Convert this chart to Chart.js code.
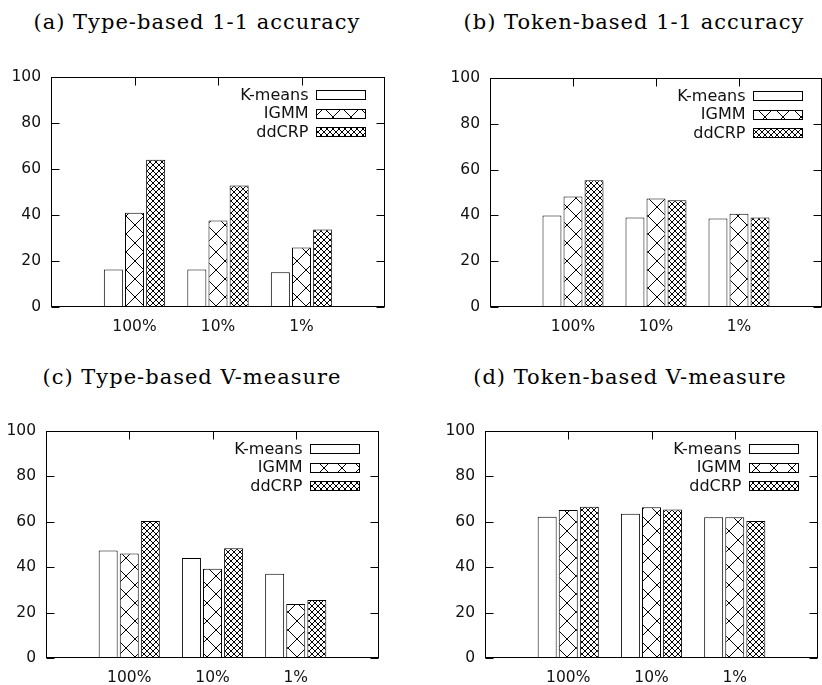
<!DOCTYPE html>
<html>
<head>
<meta charset="utf-8">
<script src="https://cdn.jsdelivr.net/npm/chart.js@4.4.1/dist/chart.umd.min.js"></script>
<style>
  html, body { margin: 0; padding: 0; background: #fff; }
  #wrap { position: relative; width: 822px; height: 685px; overflow: hidden; background: #fff; }
  #wrap canvas { position: absolute; left: 0; top: 0; }
  .ttl { position: absolute; width: 440px; text-align: center; font-family: "DejaVu Serif", serif; font-size: 21px; letter-spacing: 1px; line-height: 26px; color: #000; white-space: nowrap; }
</style>
</head>
<body>
<div id="wrap">
  <div class="ttl" id="t0"></div>
  <div class="ttl" id="t1"></div>
  <div class="ttl" id="t2"></div>
  <div class="ttl" id="t3"></div>
  <canvas id="c0" width="822" height="685"></canvas>
  <canvas id="c1" width="822" height="685"></canvas>
  <canvas id="c2" width="822" height="685"></canvas>
  <canvas id="c3" width="822" height="685"></canvas>
</div>
<script>
// ---------- data ----------
const categories = ['100%', '10%', '1%'];
const seriesNames = ['K-means', 'IGMM', 'ddCRP'];
const panelTitles = ['(a) Type-based 1-1 accuracy', '(b) Token-based 1-1 accuracy',
                     '(c) Type-based V-measure', '(d) Token-based V-measure'];

const typeAccKmeans  = [16.3, 16.3, 15.1];
const typeAccIGMM    = [41.0, 37.6, 25.9];
const typeAccDdcrp   = [64.0, 52.8, 33.7];

const tokenAccKmeans = [40.0, 39.1, 38.7];
const tokenAccIGMM   = [48.2, 47.4, 40.7];
const tokenAccDdcrp  = [55.3, 46.6, 39.1];

const typeVmKmeans   = [47.4, 44.0, 37.1];
const typeVmIGMM     = [46.0, 39.3, 23.8];
const typeVmDdcrp    = [60.4, 48.4, 25.5];

const tokenVmKmeans  = [62.2, 63.6, 62.0];
const tokenVmIGMM    = [65.2, 66.4, 62.0];
const tokenVmDdcrp   = [66.6, 65.4, 60.3];

const yMin = 0, yMax = 100, yStep = 20;
const yTickValues = [0, 20, 40, 60, 80, 100];

// ---------- layout (positions only) ----------
const panels = [
  { title: panelTitles[0], tx: 197, ty: 22,  xh: 40, area: { left: 51,  right: 385, top: 77,  bottom: 307 }, data: [typeAccKmeans, typeAccIGMM, typeAccDdcrp] },
  { title: panelTitles[1], tx: 634, ty: 22,  xh: 40, area: { left: 490, right: 822, top: 78,  bottom: 307 }, data: [tokenAccKmeans, tokenAccIGMM, tokenAccDdcrp] },
  { title: panelTitles[2], tx: 192, ty: 377, xh: 27, area: { left: 46,  right: 379, top: 431, bottom: 658 }, data: [typeVmKmeans, typeVmIGMM, typeVmDdcrp] },
  { title: panelTitles[3], tx: 630, ty: 377, xh: 27, area: { left: 485, right: 818, top: 431, bottom: 658 }, data: [tokenVmKmeans, tokenVmIGMM, tokenVmDdcrp] }
];

// ---------- patterns ----------
function makeCross(p, lw) {
  const c = document.createElement('canvas');
  c.width = p; c.height = p;
  const g = c.getContext('2d');
  g.fillStyle = '#fff'; g.fillRect(0, 0, p, p);
  g.strokeStyle = '#000'; g.lineWidth = lw;
  g.beginPath();
  g.moveTo(-1, -1); g.lineTo(p + 1, p + 1);
  g.moveTo(p + 1, -1); g.lineTo(-1, p + 1);
  g.stroke();
  return g.createPattern(c, 'repeat');
}
const fills = ['#ffffff', makeCross(18, 1), makeCross(6, 1)];

const TICK_LEN = 8;

const framePlugin = {
  id: 'frame',
  afterDatasetsDraw(chart) {
    const ctx = chart.ctx;
    const a = chart.chartArea;
    const xs = chart.scales.x, ys = chart.scales.y;
    ctx.save();
    ctx.strokeStyle = '#000';
    ctx.lineWidth = 1;
    const L = Math.round(a.left) + 0.5, R = Math.round(a.right) - 0.5;
    const T = Math.round(a.top) + 0.5, B = Math.round(a.bottom) - 0.5;
    ctx.beginPath();
    yTickValues.forEach(v => {
      const y = Math.round(ys.getPixelForValue(v)) + 0.5;
      ctx.moveTo(L, y); ctx.lineTo(L + TICK_LEN, y);
      ctx.moveTo(R, y); ctx.lineTo(R - TICK_LEN, y);
    });
    categories.forEach((c, i) => {
      const x = Math.round(xs.getPixelForValue(i + 1)) + 0.5;
      ctx.moveTo(x, T); ctx.lineTo(x, T + TICK_LEN);
    });
    ctx.stroke();
    ctx.strokeRect(L, T, R - L, B - T);

    // legend (top right, inside plot)
    const boxW = 49, boxH = 9, rowGap = 18.5;
    const boxRight = a.right - 20;
    ctx.font = '16px "DejaVu Sans"';
    ctx.textAlign = 'right';
    ctx.textBaseline = 'middle';
    chart.data.datasets.forEach((ds, i) => {
      const cy = a.top + 17.5 + i * rowGap;
      const bx = Math.round(boxRight - boxW) + 0.5;
      const by = Math.round(cy - boxH / 2) + 0.5;
      ctx.fillStyle = '#111';
      ctx.fillText(ds.label, bx - 8, cy + 1);
      ctx.fillStyle = fills[i];
      ctx.fillRect(bx, by, boxW, boxH);
      ctx.strokeStyle = '#000';
      ctx.strokeRect(bx, by, boxW, boxH);
    });
    ctx.restore();
  }
};

const xLabels = [''].concat(categories).concat(['']);

panels.forEach((p, k) => {
  const t = document.getElementById('t' + k);
  t.textContent = p.title;
  t.style.left = (p.tx - 220) + 'px';
  t.style.top = (p.ty - 13) + 'px';

  const datasets = seriesNames.map((name, i) => ({
    label: name,
    data: [null].concat(p.data[i]).concat([null]),
    backgroundColor: fills[i],
    borderColor: '#000',
    borderWidth: 1,
    borderSkipped: false,
    categoryPercentage: 0.76,
    barPercentage: 0.9
  }));

  new Chart(document.getElementById('c' + k), {
    type: 'bar',
    data: { labels: xLabels, datasets },
    options: {
      responsive: false,
      animation: false,
      events: [],
      layout: {
        padding: {
          left: 0,
          right: 822 - p.area.right,
          top: p.area.top,
          bottom: 685 - p.area.bottom - p.xh
        }
      },
      plugins: { legend: { display: false }, tooltip: { enabled: false }, title: { display: false } },
      scales: {
        x: {
          type: 'category',
          offset: false,
          grid: { display: false, drawTicks: true, tickLength: 11 },
          border: { display: false },
          ticks: { color: '#111', font: { family: 'DejaVu Sans', size: 15.5 }, padding: 0, maxRotation: 0, autoSkip: false },
          afterFit(s) { s.height = p.xh; }
        },
        y: {
          min: yMin, max: yMax,
          grid: { display: false, drawTicks: false },
          border: { display: false },
          ticks: { stepSize: yStep, color: '#111', font: { family: 'DejaVu Sans', size: 15.5 }, padding: 10 },
          afterFit(s) { s.width = p.area.left; }
        }
      }
    },
    plugins: [framePlugin]
  });
});
</script>
</body>
</html>
